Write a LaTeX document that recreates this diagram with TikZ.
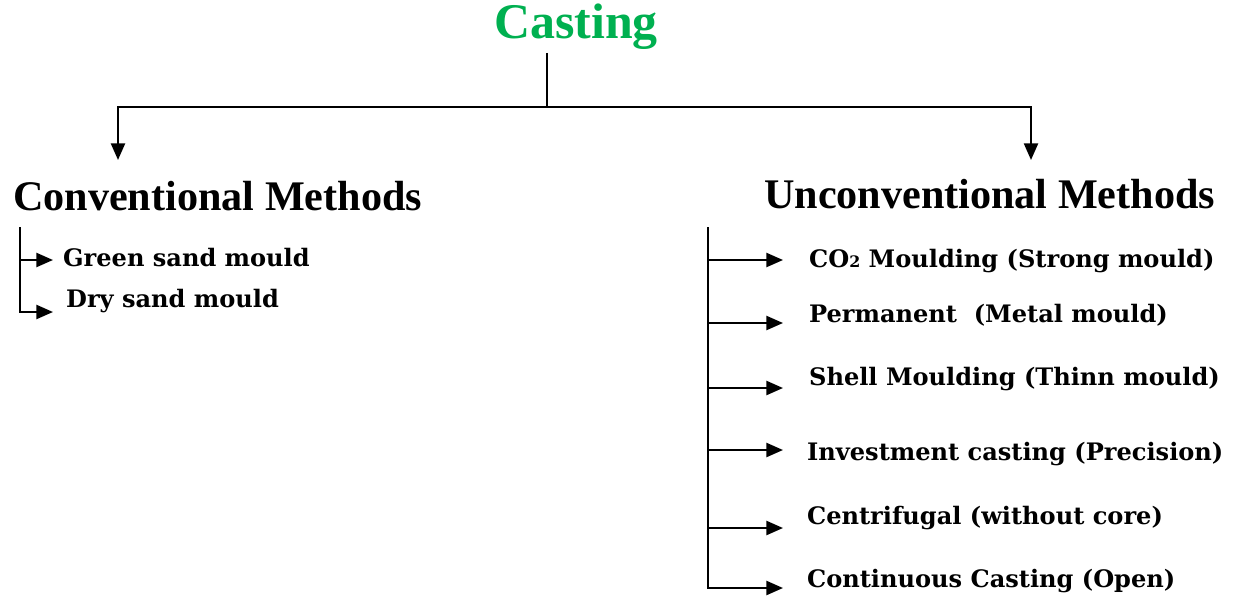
\documentclass[tikz,border=0pt]{standalone}
\usepackage{fontspec}
\setmainfont{Liberation Serif}
\newfontfamily\itemfont{DejaVu Serif}
\usetikzlibrary{arrows.meta}
\definecolor{castgreen}{RGB}{0,176,80}
\tikzset{
	title/.style={anchor=base west, inner sep=0pt, font=\fontsize{28.4}{32}\selectfont\bfseries},
	head/.style={anchor=base west, inner sep=0pt, font=\fontsize{24}{28}\selectfont\bfseries},
	item/.style={anchor=base west, inner sep=0pt, font=\itemfont\bfseries\fontsize{13.7}{16}\selectfont},
	tip/.style={-{Triangle[length=9.5pt,width=8pt]}}
}
\begin{document}
	\begin{tikzpicture}[x=0.02cm, y=-0.02cm, line width=1.3pt]
		\useasboundingbox (0,0) rectangle (1236,598);
		\node[title, text=castgreen] (cast) at (493,39) {Casting};
		\node[head] (conv) at (12,210) {Conventional Methods};
		\node[head] (unconv) at (763,208) {Unconventional Methods};
		\coordinate (split) at (547,107);
		\coordinate (convin) at (118,160);
		\coordinate (unconvin) at (1031,160);
		\draw (split |- 0,53) -- (split);
		\draw[tip] (split) -| (convin);
		\draw[tip] (split) -| (unconvin);
		\node[item] (green) at (62,266) {Green sand mould};
		\node[item] (dry) at (65,307) {Dry sand mould};
		\coordinate (ctop) at (20,227);
		\coordinate (greenin) at ([shift={(-9,-6)}]green.base west);
		\coordinate (dryin) at ([shift={(-12,5)}]dry.base west);
		\draw[tip] (ctop |- greenin) -- (greenin);
		\draw[tip] (ctop) |- (dryin);
		\coordinate (utop) at (708,227);
		\foreach \n/\x/\by/\dy/\txt in {
			co/808/267/-7/{CO{\fontsize{9}{9}\selectfont 2} Moulding (Strong mould)},
			perm/808/322/1/{Permanent~ (Metal mould)},
			shell/808/385/3/{Shell Moulding (Thinn mould)},
			inv/806/460/-10/{Investment casting (Precision)},
			cent/806/524/4/{Centrifugal (without core)},
			cont/806/587/1/{Continuous Casting (Open)}} {
			\node[item] (\n) at (\x,\by) {\txt};
			\coordinate (\n in) at ([shift={(783-\x,\dy)}]\n.base west);
		}
		\foreach \n in {co,perm,shell,inv,cent}
			\draw[tip] (utop |- \n in) -- (\n in);
		\draw[tip] (utop) |- (contin);
	\end{tikzpicture}
\end{document}
